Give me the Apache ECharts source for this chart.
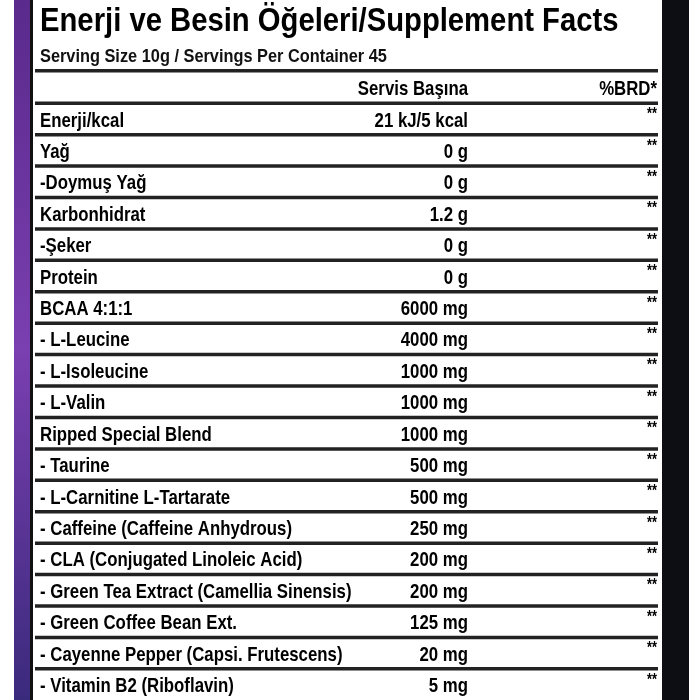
<!DOCTYPE html>
<html>
<head>
<meta charset="utf-8">
<script src="https://cdn.jsdelivr.net/npm/echarts@6/dist/echarts.min.js"></script>
<style>
  html, body { margin: 0; padding: 0; background: #fff; }
  #main { width: 700px; height: 700px; }
</style>
</head>
<body>
<div id="main"></div>
<script>
// etiket verileri
var titleText = 'Enerji ve Besin Öğeleri/Supplement Facts';
var servingText = 'Serving Size 10g / Servings Per Container 45';
var headers = ['Servis Başına', '%BRD*'];
var names = ['Enerji/kcal', 'Yağ', '-Doymuş Yağ', 'Karbonhidrat', '-Şeker', 'Protein', 'BCAA 4:1:1',
  '- L-Leucine', '- L-Isoleucine', '- L-Valin', 'Ripped Special Blend', '- Taurine',
  '- L-Carnitine L-Tartarate', '- Caffeine (Caffeine Anhydrous)', '- CLA (Conjugated Linoleic Acid)',
  '- Green Tea Extract (Camellia Sinensis)', '- Green Coffee Bean Ext.', '- Cayenne Pepper (Capsi. Frutescens)',
  '- Vitamin B2 (Riboflavin)'];
var amounts = ['21 kJ/5 kcal', '0 g', '0 g', '1.2 g', '0 g', '0 g', '6000 mg', '4000 mg', '1000 mg',
  '1000 mg', '1000 mg', '500 mg', '500 mg', '250 mg', '200 mg', '200 mg', '125 mg', '20 mg', '5 mg'];
var brd = ['**', '**', '**', '**', '**', '**', '**', '**', '**', '**', '**', '**', '**', '**', '**', '**', '**', '**', '**'];

var sans = '"Liberation Sans", Arial, sans-serif';
var rowFont = 'bold 21px ' + sans;
var squeeze = 0.8; // dar yazı tipi yok, yatayda sıkıştır
var chart = echarts.init(document.getElementById('main'));

var option = {
    backgroundColor: '#fff',
    animation: false,
    graphic: [
        // sol mor şerit ve çerçeve
        { type: 'rect', shape: { x: 14, y: 0, width: 17, height: 700 },
          style: { fill: new echarts.graphic.LinearGradient(0, 0, 0, 1, [
              { offset: 0, color: '#5a2a8c' }, { offset: 0.5, color: '#7a3fb0' }, { offset: 1, color: '#3a2a7c' }]) } },
        { type: 'rect', shape: { x: 30, y: 0, width: 3, height: 700 }, style: { fill: '#111' } },
        { type: 'rect', shape: { x: 662, y: 0, width: 27, height: 700 }, style: { fill: '#0d0d14' } },
        { type: 'text', x: 40, y: 5, scaleX: 0.86, style: { text: titleText, font: 'bold 34px ' + sans, fill: '#000' } },
        { type: 'text', x: 40, y: 47, scaleX: 0.86, style: { text: servingText, font: 'bold 19px ' + sans, fill: '#111' } },
        { type: 'rect', shape: { x: 35, y: 69, width: 623, height: 3.5 }, style: { fill: '#222' } },
        { type: 'text', x: 468, y: 89, scaleX: squeeze, style: { text: headers[0], font: rowFont, fill: '#000', align: 'right', verticalAlign: 'middle' } },
        { type: 'text', x: 657, y: 89, scaleX: squeeze, style: { text: headers[1], font: rowFont, fill: '#000', align: 'right', verticalAlign: 'middle' } }
    ],
    grid: { left: 35, right: 42, top: 103, bottom: 0 },
    xAxis: { type: 'value', min: 0, max: 1, show: false },
    yAxis: { type: 'category', inverse: true, data: names, show: false },
    series: [{
        type: 'custom',
        data: names.map(function(n, i) { return [0, i]; }),
        renderItem: function(params, api) {
            var i = api.value(1);
            var c = api.coord([0, i]);
            var h = api.size([0, 1])[1];
            var top = c[1] - h / 2;
            var cy = c[1] + 2;
            return {
                type: 'group',
                children: [
                    { type: 'rect', shape: { x: 35, y: top - 1.5, width: 623, height: 3.5 }, style: { fill: '#222' } },
                    { type: 'text', x: 40, y: cy, scaleX: squeeze, style: { text: names[i], font: rowFont, fill: '#000', verticalAlign: 'middle' } },
                    { type: 'text', x: 468, y: cy, scaleX: squeeze, style: { text: amounts[i], font: rowFont, fill: '#000', align: 'right', verticalAlign: 'middle' } },
                    { type: 'text', x: 657, y: cy - 6, scaleX: squeeze, style: { text: brd[i], font: 'bold 16px ' + sans, fill: '#000', align: 'right', verticalAlign: 'middle' } }
                ]
            };
        }
    }]
};
chart.setOption(option);
</script>
</body>
</html>
